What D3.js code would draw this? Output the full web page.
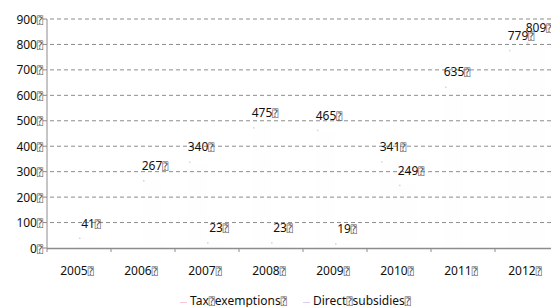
<!DOCTYPE html>
<html><head><meta charset="utf-8">
<script src="https://cdn.jsdelivr.net/npm/d3@7"></script>
<style>
html,body{margin:0;padding:0;background:#fff;overflow:hidden}
text{font-family:"Noto Sans","Open Sans",sans-serif;fill:#111}
</style></head>
<body><svg id="c" width="551" height="307"></svg>
<script>
const years = ["2005","2006","2007","2008","2009","2010","2011","2012"];
const seriesNames = ["Tax exemptions","Direct subsidies"];
const taxExemptions = [null, null, 340, 475, 465, 341, 635, 779];
const directSubsidies = [41, 267, 23, 23, 19, 249, null, 809];
const yTicks = [0,100,200,300,400,500,600,700,800,900];
const BOX = "\u2370";

const svg = d3.select("#c");
const colors = ["#f3c9d3","#d5cfea"];
const FS = 12;
const BFS = 10;
const x = d3.scaleBand().domain(years).range([47, 559]).padding(0);
const y = d3.scaleLinear().domain([0, 900]).range([248, 19]);
const xs = d3.scaleBand().domain(seriesNames).range([0, 36]);

function addBox(t) {
  t.append("tspan").attr("font-family", "DejaVu Sans Mono, DejaVu Sans")
    .attr("font-size", BFS).style("fill", "#555").text(BOX);
}
function boxText(g, str, xPos, yBase, anchor, centerDigits) {
  const t = g.append("text").attr("x", xPos).attr("y", yBase).attr("font-size", FS);
  t.append("tspan").text(str);
  addBox(t);
  if (centerDigits) {
    const w = t.select("tspan").node().getComputedTextLength();
    t.attr("x", xPos - w / 2).attr("text-anchor", "start");
  } else {
    t.attr("text-anchor", anchor);
  }
  return t;
}

// gridlines
svg.append("g").selectAll("line").data(yTicks.filter(d => d > 0)).join("line")
  .attr("x1", 43).attr("x2", 551).attr("y1", d => y(d)).attr("y2", d => y(d))
  .attr("stroke", "#8c8c8c").attr("stroke-width", 1).attr("stroke-dasharray", "4,3");

// y labels
const gy = svg.append("g");
yTicks.forEach(v => boxText(gy, String(v), 43, y(v) + 4.5, "end", false));
gy.append("line").attr("x1", 43).attr("x2", 47).attr("y1", y(0)).attr("y2", y(0)).attr("stroke", "#8c8c8c");

// axes lines
svg.append("line").attr("x1", 47).attr("x2", 47).attr("y1", y(900)).attr("y2", y(0))
  .attr("stroke", "#8c8c8c").attr("stroke-width", 1);
svg.append("line").attr("x1", 47).attr("x2", 551).attr("y1", y(0) + 0.5).attr("y2", y(0) + 0.5)
  .attr("stroke", "#8c8c8c").attr("stroke-width", 1.5);
svg.append("g").selectAll("line").data(years.concat(["end"])).join("line")
  .attr("x1", (d, i) => 47 + i * x.bandwidth()).attr("x2", (d, i) => 47 + i * x.bandwidth())
  .attr("y1", y(0)).attr("y2", y(0) + 4).attr("stroke", "#8c8c8c");

// x labels
const gx = svg.append("g");
years.forEach(yr => boxText(gx, yr, x(yr) + x.bandwidth() / 2 - 2, 274.5, "middle", false));

// bars (near transparent) + labels
const series = [taxExemptions, directSubsidies];
const gb = svg.append("g");
series.forEach((vals, si) => {
  vals.forEach((v, i) => {
    if (v == null) return;
    const bx = x(years[i]) + x.bandwidth() / 2 - 18 + xs(seriesNames[si]);
    gb.append("rect").attr("x", bx).attr("y", y(v)).attr("width", xs.bandwidth())
      .attr("height", y(0) - y(v)).attr("fill", colors[si]).attr("fill-opacity", 0.02);
    gb.append("rect").attr("x", bx).attr("y", y(v)).attr("width", 1.5).attr("height", 1.5)
      .attr("fill", colors[si]);
    boxText(gb, String(v), bx + xs.bandwidth() / 2, y(v) - 10, "middle", true);
  });
});

// legend
const gl = svg.append("g");
const legX = [180, 303];
seriesNames.forEach((n, i) => {
  gl.append("line").attr("x1", legX[i]).attr("x2", legX[i] + 7).attr("y1", 302.5).attr("y2", 302.5)
    .attr("stroke", colors[i]).attr("stroke-width", 1);
  const parts = n.split(" ");
  const t = gl.append("text").attr("x", legX[i] + 10).attr("y", 304.5).attr("font-size", FS);
  t.append("tspan").text(parts[0]);
  addBox(t);
  t.append("tspan").text(parts[1]);
  addBox(t);
});
</script></body></html>
